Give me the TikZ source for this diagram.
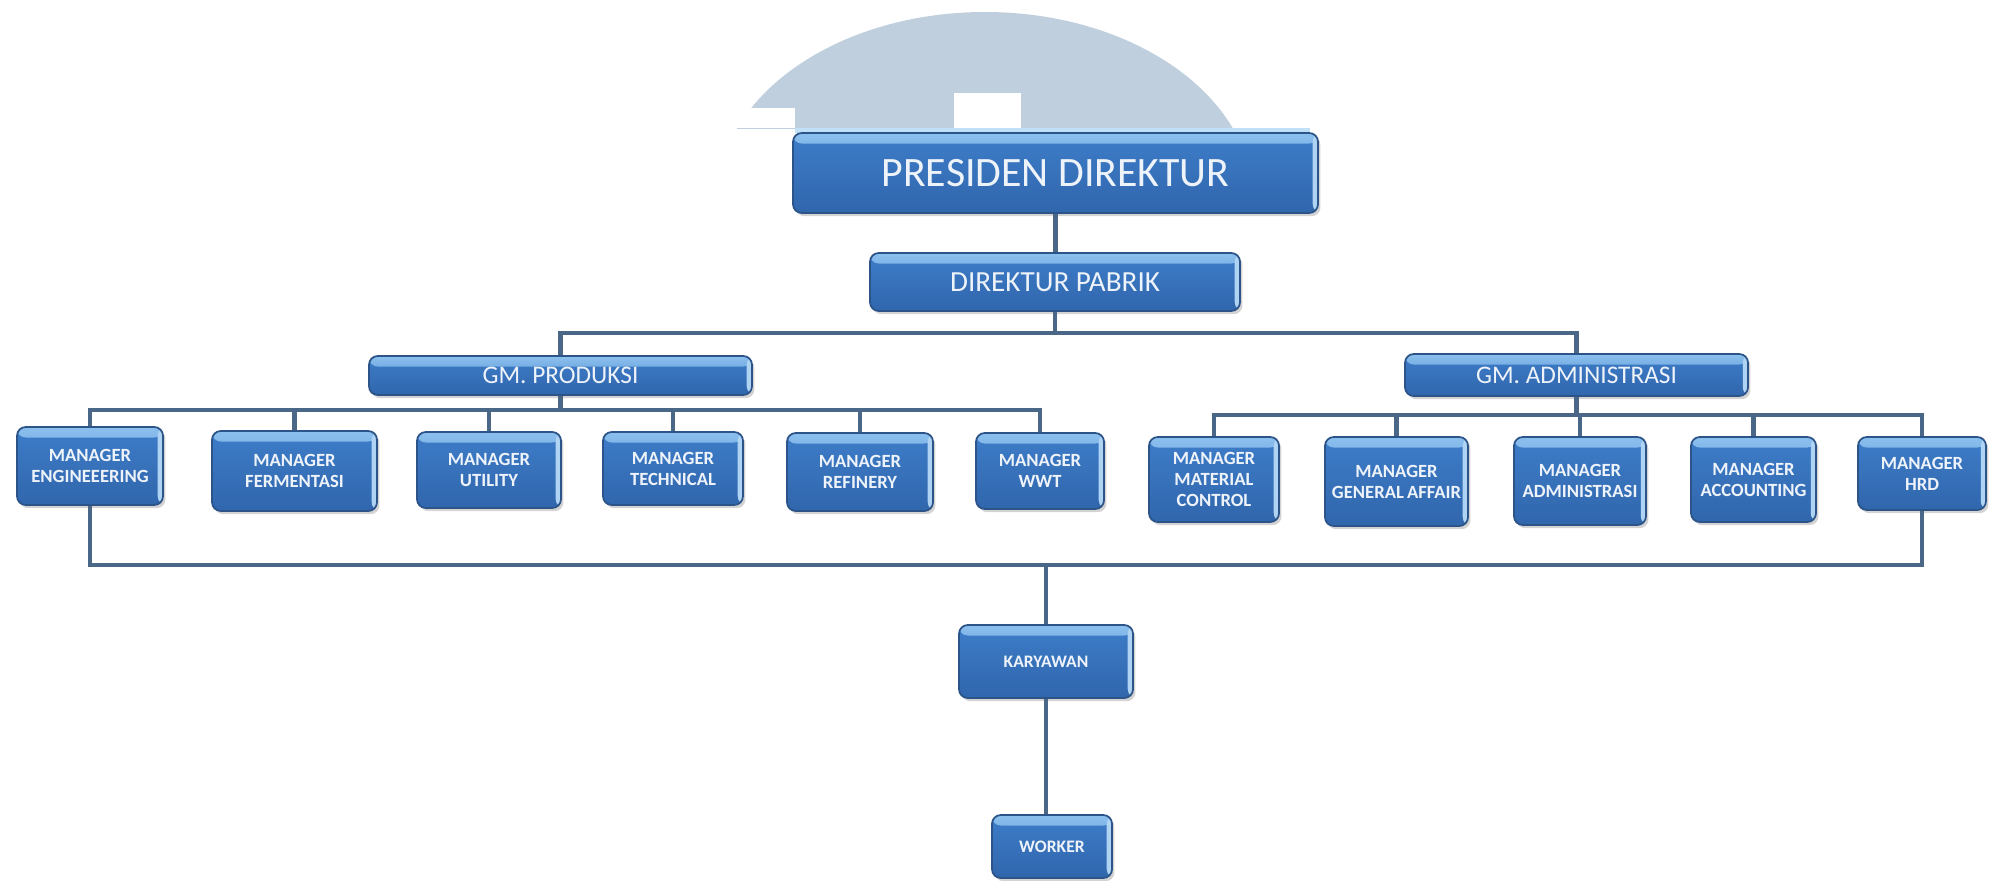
\documentclass[tikz,border=0pt]{standalone}
\usepackage{fontspec}
\setmainfont{Carlito}
\usepackage{xcolor}
\usepackage{tikz}
\usetikzlibrary{shadows}

\definecolor{domegrey}{HTML}{C0CFDD}
\definecolor{bandblue}{HTML}{BFE0F7}
\definecolor{boxhi}{HTML}{8CC0EE}
\definecolor{boxmid}{HTML}{3E7DC9}
\definecolor{boxbot}{HTML}{3066AC}
\definecolor{boxedge}{HTML}{2C5488}
\definecolor{boxtext}{HTML}{EEF3FA}
\definecolor{wirecol}{HTML}{4B6788}

\begin{document}
\begin{tikzpicture}[
    orgbox/.style = {draw=boxedge, line width=0.5pt, rounded corners=2.5pt,
                     top color=boxmid, bottom color=boxbot, text=boxtext,
                     inner sep=0pt, align=center,
                     drop shadow={shadow xshift=0.7pt, shadow yshift=-0.9pt,
                                  opacity=0.35},
                     path picture={
                       \shade[top color=boxhi, bottom color=boxmid]
                         (path picture bounding box.north west) rectangle
                         ([yshift=-3pt]path picture bounding box.north east);
                       \fill[boxhi!70!white]
                         ([xshift=-1.5pt]path picture bounding box.north east)
                         rectangle (path picture bounding box.south east);}},
    topbox/.style = {orgbox, font=\fontsize{11.9}{14}\selectfont},
    dirbox/.style = {orgbox, font=\fontsize{8.3}{10}\selectfont},
    gmbox/.style  = {orgbox, font=\fontsize{7.2}{9}\selectfont},
    mgr/.style    = {orgbox, font=\fontsize{5.3}{6}\selectfont\bfseries},
    staff/.style  = {orgbox, font=\fontsize{5}{6}\selectfont\bfseries},
    wire/.style   = {draw=wirecol, line width=1.2pt}
]
    \useasboundingbox (0,0) rectangle (19.89,-8.80);

    %-- watermark dome behind the top box -----------------------------------
    \begin{scope}
        \clip (0,0) rectangle (19.89,-1.28);
        \fill[domegrey] (9.85,-2.00) ellipse (2.68 and 1.88);
    \end{scope}
    \fill[white] (7.00,-1.08) rectangle (7.95,-1.28);
    \fill[white] (9.54,-0.93) rectangle (10.21,-1.28);
    \fill[bandblue] (7.95,-1.28) rectangle (13.10,-1.33);

    %-- Directors --------------------------------------------------------------
    \node[topbox, minimum width=5.25cm, minimum height=0.80cm] (pres)
          at (10.555,-1.73) {PRESIDEN DIREKTUR};
    \node[dirbox, minimum width=3.70cm, minimum height=0.58cm] (dir)
          at (10.55,-2.82) {DIREKTUR PABRIK};

    %-- General managers -------------------------------------------------------
    \node[gmbox, minimum width=3.83cm, minimum height=0.39cm] (gmp)
          at (5.605,-3.755) {GM. PRODUKSI};
    \node[gmbox, minimum width=3.43cm, minimum height=0.42cm] (gma)
          at (15.765,-3.75) {GM. ADMINISTRASI};

    %-- Managers (name/x/y/width/height/text) ----------------------------------
    \foreach \nm/\x/\y/\w/\h/\txt in {
        meng/0.90/-4.66/1.46/0.78/{MANAGER\\ENGINEEERING},
        mfer/2.945/-4.71/1.65/0.80/{MANAGER\\FERMENTASI},
        mutl/4.89/-4.70/1.44/0.76/{MANAGER\\UTILITY},
        mtec/6.73/-4.685/1.40/0.73/{MANAGER\\TECHNICAL},
        mref/8.60/-4.72/1.46/0.78/{MANAGER\\REFINERY},
        mwwt/10.40/-4.71/1.28/0.76/{MANAGER\\WWT},
        mmat/12.14/-4.795/1.30/0.85/{MANAGER\\MATERIAL\\CONTROL},
        mgen/13.965/-4.815/1.43/0.89/{MANAGER\\GENERAL\,AFFAIR},
        madm/15.80/-4.81/1.32/0.88/{MANAGER\\ADMINISTRASI},
        macc/17.535/-4.795/1.25/0.85/{MANAGER\\ACCOUNTING},
        mhrd/19.22/-4.735/1.28/0.73/{MANAGER\\HRD}}{
        \node[mgr, minimum width=\w cm, minimum height=\h cm] (\nm)
              at (\x,\y) {\txt};
    }

    %-- Staff ------------------------------------------------------------------
    \node[staff, minimum width=1.74cm, minimum height=0.73cm] (kar)
          at (10.46,-6.615) {KARYAWAN};
    \node[staff, minimum width=1.20cm, minimum height=0.63cm] (wrk)
          at (10.52,-8.465) {WORKER};

    %-- Bus levels ---------------------------------------------------------------
    \coordinate (busD) at (10.55,-3.33);
    \coordinate (busP) at (5.605,-4.10);
    \coordinate (busA) at (15.765,-4.15);
    \coordinate (busK) at (10.46,-5.65);

    %-- Connectors -------------------------------------------------------------
    \draw[wire] (pres.south) -- (pres.south |- dir.north);
    \draw[wire] (dir.south) -- (dir.south |- busD);
    \draw[wire] (gmp.north) |- (busD) -| (gma.north);

    \draw[wire] (gmp.south) -- (gmp.south |- busP);
    \draw[wire] (meng.north) |- (busP) -| (mwwt.north);
    \foreach \m in {mfer,mutl,mtec,mref}
        \draw[wire] (\m.north) -- (\m.north |- busP);

    \draw[wire] (gma.south) -- (gma.south |- busA);
    \draw[wire] (mmat.north) |- (busA) -| (mhrd.north);
    \foreach \m in {mgen,madm,macc}
        \draw[wire] (\m.north) -- (\m.north |- busA);

    % all managers report down to the staff
    \draw[wire] (meng.south) |- (busK) -| (mhrd.south);
    \draw[wire] (busK) -- (busK |- kar.north);
    \draw[wire] (kar.south) -- (kar.south |- wrk.north);

\end{tikzpicture}
\end{document}
